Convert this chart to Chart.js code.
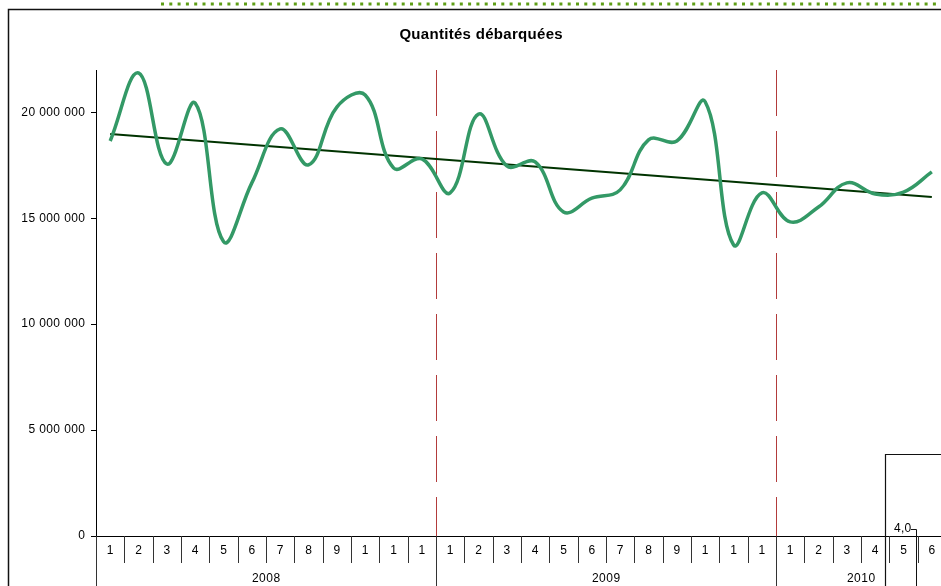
<!DOCTYPE html>
<html>
<head>
<meta charset="utf-8">
<script src="https://cdn.jsdelivr.net/npm/chart.js@4/dist/chart.umd.min.js"></script>
<style>
  html, body { margin: 0; padding: 0; background: #fff; overflow: hidden; }
  #wrap { position: absolute; left: 0; top: 0; width: 950px; height: 586px; }
</style>
</head>
<body>
<div id="wrap"><canvas id="landingsChart"></canvas></div>
<script>
// month numbers for each point, grouped by year
const years = ['2008', '2009', '2010'];
const monthsPerYear = [12, 12, 6];
const months = ['1','2','3','4','5','6','7','8','9','10','11','12',
                '1','2','3','4','5','6','7','8','9','10','11','12',
                '1','2','3','4','5','6'];

// landed quantities
const quantities = [
  18650000, 21860000, 17560000, 20440000, 13900000, 16670000,
  19220000, 17520000, 20250000, 20820000, 17380000, 17800000,
  16200000, 19920000, 17470000, 17660000, 15300000, 15950000,
  16340000, 18700000, 18650000, 20500000, 13750000, 16200000,
  14830000, 15530000, 16670000, 16150000, 16240000, 17190000
];

// trend line end points
const trendStart = 18980000;
const trendEnd = 16000000;

const yTicks = [0, 5000000, 10000000, 15000000, 20000000];

const trend = quantities.map((v, i) => i === 0 ? trendStart : (i === quantities.length - 1 ? trendEnd : null));

const FONT = "'Liberation Sans', Arial, sans-serif";

function fmt(n) {
  return String(n).replace(/\B(?=(\d{3})+(?!\d))/g, ' ');
}

// text a little wider than plain Arial, like the original
function spacedText(ctx, text, x, y, align, spacing) {
  ctx.save();
  ctx.letterSpacing = spacing + 'px';
  ctx.textAlign = align;
  // letterSpacing also pads after the last glyph
  const dx = align === 'center' ? spacing / 2 : (align === 'right' ? spacing : 0);
  ctx.fillText(text, x + dx, y);
  ctx.restore();
}

// draws title, frame, category rows, year separators etc.
const decorations = {
  id: 'decorations',
  beforeDatasetsDraw(chart) {
    const ctx = chart.ctx;
    const area = chart.chartArea;
    const x = chart.scales.x;
    const step = x.getPixelForValue(1) - x.getPixelForValue(0);
    const edge = k => area.left + k * step;

    // red dashed year separators
    ctx.save();
    ctx.strokeStyle = '#b23b3b';
    ctx.lineWidth = 1;
    ctx.setLineDash([46, 15]);
    let k = 0;
    for (let y = 0; y < years.length - 1; y++) {
      k += monthsPerYear[y];
      const px = Math.round(edge(k)) + 0.5;
      ctx.beginPath();
      ctx.moveTo(px, area.top);
      ctx.lineTo(px, area.bottom);
      ctx.stroke();
    }
    ctx.restore();
  },
  afterDraw(chart) {
    const ctx = chart.ctx;
    const area = chart.chartArea;
    const x = chart.scales.x;
    const yScale = chart.scales.y;
    const step = x.getPixelForValue(1) - x.getPixelForValue(0);
    const edge = k => area.left + k * step;
    const H = chart.height;

    ctx.save();
    // dotted green rule at the very top
    ctx.strokeStyle = '#5e9e16';
    ctx.lineWidth = 3;
    ctx.setLineDash([3, 5.3]);
    ctx.beginPath();
    ctx.moveTo(161, 4);
    ctx.lineTo(950, 4);
    ctx.stroke();
    ctx.setLineDash([]);

    // outer frame
    ctx.strokeStyle = '#111';
    ctx.lineWidth = 1.5;
    ctx.beginPath();
    ctx.moveTo(8.5, H);
    ctx.lineTo(8.5, 9.5);
    ctx.lineTo(950, 9.5);
    ctx.stroke();

    // title
    ctx.fillStyle = '#000';
    ctx.font = 'bold 15px ' + FONT;
    ctx.textBaseline = 'middle';
    spacedText(ctx, 'Quantités débarquées', 481, 35, 'center', 0.3);

    // y tick labels
    ctx.font = '12px ' + FONT;
    yTicks.forEach(v => {
      spacedText(ctx, fmt(v), 85, yScale.getPixelForValue(v), 'right', 0.4);
    });

    // x axis line and y axis extension
    ctx.strokeStyle = '#000';
    ctx.lineWidth = 1;
    ctx.beginPath();
    ctx.moveTo(area.left, Math.round(area.bottom) + 0.5);
    ctx.lineTo(950, Math.round(area.bottom) + 0.5);
    ctx.moveTo(Math.round(area.left) + 0.5, area.bottom);
    ctx.lineTo(Math.round(area.left) + 0.5, H);
    ctx.stroke();

    // month cells
    ctx.strokeStyle = '#333';
    const rowBottom = area.bottom + 27;
    const yearEdges = [0];
    let acc = 0;
    monthsPerYear.forEach(n => { acc += n; yearEdges.push(acc); });
    for (let i = 0; i <= months.length; i++) {
      const px = Math.round(edge(i)) + 0.5;
      ctx.beginPath();
      ctx.moveTo(px, area.bottom);
      ctx.lineTo(px, yearEdges.includes(i) && i < months.length ? H : rowBottom);
      ctx.stroke();
    }
    months.forEach((m, i) => {
      // cells are too narrow: only first character shows
      spacedText(ctx, m.slice(0, 1), x.getPixelForValue(i), area.bottom + 15, 'center', 0);
    });

    // year labels
    years.forEach((yr, j) => {
      const cx = (edge(yearEdges[j]) + edge(yearEdges[j + 1])) / 2;
      spacedText(ctx, yr, cx, H - 7, 'center', 0.5);
    });

    // overlapping box in the corner
    ctx.strokeStyle = '#111';
    ctx.lineWidth = 1.2;
    ctx.beginPath();
    ctx.moveTo(885.5, H);
    ctx.lineTo(885.5, 454.5);
    ctx.lineTo(950, 454.5);
    ctx.stroke();
    ctx.lineWidth = 1;
    ctx.beginPath();
    ctx.moveTo(911, 529.5);
    ctx.lineTo(916.5, 529.5);
    ctx.lineTo(916.5, H);
    ctx.stroke();
    spacedText(ctx, '4,0', 894, 529, 'left', 0.3);
    ctx.restore();
  }
};

new Chart(document.getElementById('landingsChart'), {
  type: 'line',
  data: {
    labels: months,
    datasets: [{
      label: 'Quantités',
      data: quantities,
      borderColor: '#339966',
      borderWidth: 3.5,
      pointRadius: 0,
      tension: 0.4,
      fill: false
    }, {
      label: 'Tendance',
      data: trend,
      borderColor: '#003300',
      borderWidth: 2,
      pointRadius: 0,
      spanGaps: true,
      tension: 0,
      fill: false
    }]
  },
  options: {
    responsive: true,
    maintainAspectRatio: false,
    animation: false,
    layout: { padding: { top: 70, bottom: 50, left: 0, right: 4 } },
    plugins: {
      legend: { display: false },
      tooltip: { enabled: false }
    },
    scales: {
      x: {
        display: false,
        offset: true
      },
      y: {
        min: 0,
        max: 22000000,
        afterFit(scale) { scale.width = 96; },
        afterBuildTicks(scale) { scale.ticks = yTicks.map(v => ({ value: v })); },
        ticks: {
          // labels are drawn by the plugin (wider spacing)
          color: 'rgba(0,0,0,0)',
          font: { family: FONT, size: 11 }
        },
        grid: {
          display: true,
          drawOnChartArea: false,
          drawTicks: true,
          tickLength: 5,
          color: '#000'
        },
        border: { display: true, color: '#000', width: 1 }
      }
    }
  },
  plugins: [decorations]
});
</script>
</body>
</html>
